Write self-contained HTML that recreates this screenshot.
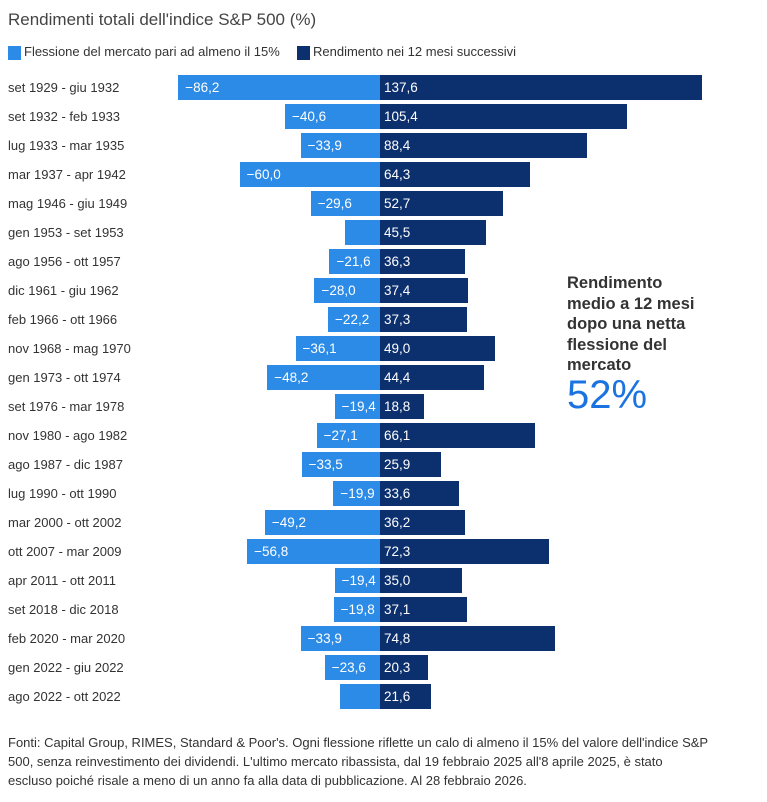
<!DOCTYPE html>
<html><head><meta charset="utf-8"><style>
body{margin:0;width:767px;height:802px;background:#fff;font-family:"Liberation Sans",sans-serif;position:relative;overflow:hidden;color:#333}
.a{position:absolute;white-space:nowrap}
.lbl{position:absolute;left:8px;font-size:13px;color:#333;line-height:25px}
.n{position:absolute;height:25px;background:#2b8be6;color:#fff;font-size:13.5px;line-height:25px;box-sizing:border-box;padding-left:7px}
.p{position:absolute;height:25px;background:#0c2f6e;color:#fff;font-size:13.5px;line-height:25px;box-sizing:border-box;padding-left:4px;left:380px}
</style></head><body>
<div class="a" style="left:8px;top:10px;font-size:17px;color:#444">Rendimenti totali dell'indice S&amp;P 500 (%)</div>
<div class="a" style="left:8px;top:46px;width:13px;height:14px;background:#2b8be6"></div>
<div class="a" style="left:24px;top:44px;font-size:13px">Flessione del mercato pari ad almeno il 15%</div>
<div class="a" style="left:297px;top:46px;width:13px;height:14px;background:#0c2f6e"></div>
<div class="a" style="left:313px;top:44px;font-size:13px">Rendimento nei 12 mesi successivi</div>
<div id="rows"></div>
<div class="a" style="left:567px;top:273px;font-size:16.5px;font-weight:bold;line-height:20.5px;color:#333">Rendimento<br>medio a 12 mesi<br>dopo una netta<br>flessione del<br>mercato</div>
<div class="a" style="left:567px;top:373px;font-size:40px;color:#1a73e0">52%</div>
<div class="a" style="left:8px;top:733px;font-size:13px;line-height:19px;color:#333">Fonti: Capital Group, RIMES, Standard &amp; Poor's. Ogni flessione riflette un calo di almeno il 15% del valore dell'indice S&amp;P<br>500, senza reinvestimento dei dividendi. L'ultimo mercato ribassista, dal 19 febbraio 2025 all'8 aprile 2025, è stato<br>escluso poiché risale a meno di un anno fa alla data di pubblicazione. Al 28 febbraio 2026.</div>
<script>
var d=[["set 1929 - giu 1932",-86.2,137.6,1],["set 1932 - feb 1933",-40.6,105.4,1],["lug 1933 - mar 1935",-33.9,88.4,1],["mar 1937 - apr 1942",-60.0,64.3,1],["mag 1946 - giu 1949",-29.6,52.7,1],["gen 1953 - set 1953",-14.8,45.5,0],["ago 1956 - ott 1957",-21.6,36.3,1],["dic 1961 - giu 1962",-28.0,37.4,1],["feb 1966 - ott 1966",-22.2,37.3,1],["nov 1968 - mag 1970",-36.1,49.0,1],["gen 1973 - ott 1974",-48.2,44.4,1],["set 1976 - mar 1978",-19.4,18.8,1],["nov 1980 - ago 1982",-27.1,66.1,1],["ago 1987 - dic 1987",-33.5,25.9,1],["lug 1990 - ott 1990",-19.9,33.6,1],["mar 2000 - ott 2002",-49.2,36.2,1],["ott 2007 - mar 2009",-56.8,72.3,1],["apr 2011 - ott 2011",-19.4,35.0,1],["set 2018 - dic 2018",-19.8,37.1,1],["feb 2020 - mar 2020",-33.9,74.8,1],["gen 2022 - giu 2022",-23.6,20.3,1],["ago 2022 - ott 2022",-17.1,21.6,0]];
var h="",k=2.34;
function f(v){return v.toFixed(1).replace(".",",").replace("-","\u2212");}
d.forEach(function(r,i){var t=75+i*29.0;var w=-r[1]*k,w2=r[2]*k;
h+='<div class="lbl" style="top:'+t+'px">'+r[0]+'</div>';
h+='<div class="n" style="top:'+t+'px;left:'+(380-w)+'px;width:'+w+'px">'+(r[3]?f(r[1]):'')+'</div>';
h+='<div class="p" style="top:'+t+'px;width:'+w2+'px">'+f(r[2])+'</div>';});
document.getElementById("rows").innerHTML=h;
</script>
</body></html>
